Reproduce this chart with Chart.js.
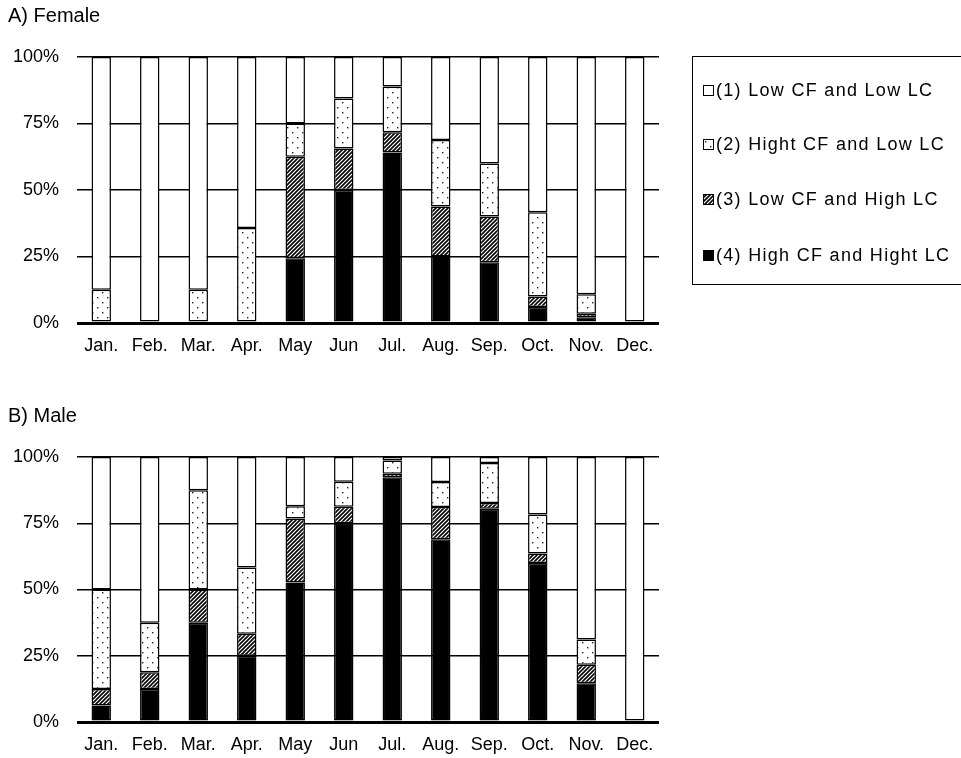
<!DOCTYPE html>
<html>
<head>
<meta charset="utf-8">
<script src="https://cdn.jsdelivr.net/npm/chart.js@4.4.1/dist/chart.umd.min.js"></script>
<style>
  body { margin: 0; background: #fff; width: 961px; height: 758px; overflow: hidden; position: relative; font-family: "Liberation Sans", Arial, sans-serif; }
  .panel { position: absolute; left: 0; width: 680px; }
  #legend { position: absolute; left: 692px; top: 56px; width: 290px; height: 229px; border: 1.5px solid #000; box-sizing: border-box; }
  .item { position: absolute; left: 10px; height: 20px; display: flex; align-items: center; font-size: 18px; letter-spacing: 1.3px; color: #000; white-space: nowrap; }
  .item canvas { margin-right: 2px; }
</style>
</head>
<body>
<div class="panel" style="top:0;height:358px"><canvas id="femaleChart"></canvas></div>
<div class="panel" style="top:400px;height:357px"><canvas id="maleChart"></canvas></div>
<div id="legend"></div>
<script>
// months on the x axis
const months = ["Jan.", "Feb.", "Mar.", "Apr.", "May", "Jun", "Jul.", "Aug.", "Sep.", "Oct.", "Nov.", "Dec."];
const yTicks = [0, 25, 50, 75, 100];

// legend text, (1)..(4)
const groupLabels = [
  "(1) Low CF and Low LC",
  "(2) Hight CF and Low LC",
  "(3) Low CF and High LC",
  "(4) High CF and Hight LC"
];

// A) Female, percent of each month
const femaleHighHigh = [0, 0, 0, 0, 24.3, 50, 64.1, 25, 22.8, 6, 2.2, 0];
const femaleLowHigh  = [0, 0, 0, 0, 38.2, 15.6, 7.6, 18.8, 17.2, 4, 1.3, 0];
const femaleHighLow  = [12.5, 0, 12.5, 35.7, 12.5, 18.8, 17.2, 25, 20, 31.6, 7.3, 0];
const femaleLowLow   = [87.5, 100, 87.5, 64.3, 25, 15.6, 11.1, 31.2, 40, 58.4, 89.2, 100];

// B) Male
const maleHighHigh = [6.25, 12.5, 37.5, 25, 52.6, 75, 92.4, 69, 80.5, 60, 14.6, 0];
const maleLowHigh  = [6.25, 6.25, 12.5, 8.3, 24.2, 6.25, 1.3, 12.1, 2.1, 3.6, 7, 0];
const maleHighLow  = [37.5, 18.75, 37.5, 25, 4.6, 9.4, 5, 9.5, 15.1, 14.7, 9.5, 0];
const maleLowLow   = [50, 62.5, 12.5, 41.7, 18.6, 9.35, 1.3, 9.4, 2.3, 21.7, 68.9, 100];

function makeDots() {
  const c = document.createElement("canvas");
  c.width = 10; c.height = 10;
  const g = c.getContext("2d");
  g.fillStyle = "#fff"; g.fillRect(0, 0, 10, 10);
  g.fillStyle = "#222";
  g.fillRect(2, 2, 1.4, 1.4);
  g.fillRect(7, 7, 1.4, 1.4);
  return g.createPattern(c, "repeat");
}

function makeHatch() {
  const c = document.createElement("canvas");
  c.width = 4; c.height = 4;
  const g = c.getContext("2d");
  g.fillStyle = "#fff"; g.fillRect(0, 0, 4, 4);
  g.strokeStyle = "#000"; g.lineWidth = 1.6;
  g.beginPath();
  g.moveTo(0, 4); g.lineTo(4, 0);
  g.moveTo(-1, 1); g.lineTo(1, -1);
  g.moveTo(3, 5); g.lineTo(5, 3);
  g.stroke();
  return g.createPattern(c, "repeat");
}

const fills = ["#fff", makeDots(), makeHatch(), "#000"];

function barSet(label, data, fill) {
  return {
    label: label,
    data: data,
    backgroundColor: fill,
    borderColor: "#000",
    borderWidth: 1.5,
    borderSkipped: false,
    barPercentage: 0.4,
    categoryPercentage: 1.0
  };
}

function makeChart(id, title, lowLow, highLow, lowHigh, highHigh) {
  return new Chart(document.getElementById(id), {
    type: "bar",
    data: {
      labels: months,
      datasets: [
        barSet(groupLabels[3], highHigh, fills[3]),
        barSet(groupLabels[2], lowHigh, fills[2]),
        barSet(groupLabels[1], highLow, fills[1]),
        barSet(groupLabels[0], lowLow, fills[0])
      ]
    },
    options: {
      responsive: true,
      maintainAspectRatio: false,
      animation: false,
      layout: { padding: { left: 8, right: 21, top: 0, bottom: 0 } },
      plugins: {
        legend: { display: false },
        tooltip: { enabled: false },
        title: {
          display: true,
          text: title,
          align: "start",
          color: "#000",
          font: { family: "Liberation Sans", size: 20, weight: "normal" },
          padding: { top: 4, bottom: 29 }
        }
      },
      scales: {
        x: {
          stacked: true,
          grid: { display: false },
          border: { display: false },
          ticks: { color: "#000", padding: 4, font: { family: "Liberation Sans", size: 18 } },
          afterFit: s => { s.height = 35; }
        },
        y: {
          stacked: true,
          min: 0,
          max: 100,
          afterBuildTicks: s => { s.ticks = yTicks.map(v => ({ value: v })); },
          grid: {
            color: "#000",
            drawTicks: false,
            lineWidth: c => (c.tick && c.tick.value === 0 ? 3 : 1.5)
          },
          border: { display: false },
          ticks: {
            color: "#000",
            padding: 18,
            font: { family: "Liberation Sans", size: 18 },
            callback: v => v + "%"
          },
          afterFit: s => { s.width = 69; }
        }
      }
    }
  });
}

makeChart("femaleChart", "A) Female", femaleLowLow, femaleHighLow, femaleLowHigh, femaleHighHigh);
makeChart("maleChart", "B) Male", maleLowLow, maleHighLow, maleLowHigh, maleHighHigh);

// legend box on the right
const legend = document.getElementById("legend");
const rowTops = [23, 77, 132, 188];
groupLabels.forEach((txt, i) => {
  const row = document.createElement("div");
  row.className = "item";
  row.style.top = rowTops[i] + "px";
  const sw = document.createElement("canvas");
  sw.width = 11; sw.height = 11;
  const g = sw.getContext("2d");
  g.fillStyle = fills[i]; g.fillRect(0, 0, 11, 11);
  g.strokeStyle = "#000"; g.lineWidth = 1; g.strokeRect(0.5, 0.5, 10, 10);
  row.appendChild(sw);
  row.appendChild(document.createTextNode(txt));
  legend.appendChild(row);
});
</script>
</body>
</html>
